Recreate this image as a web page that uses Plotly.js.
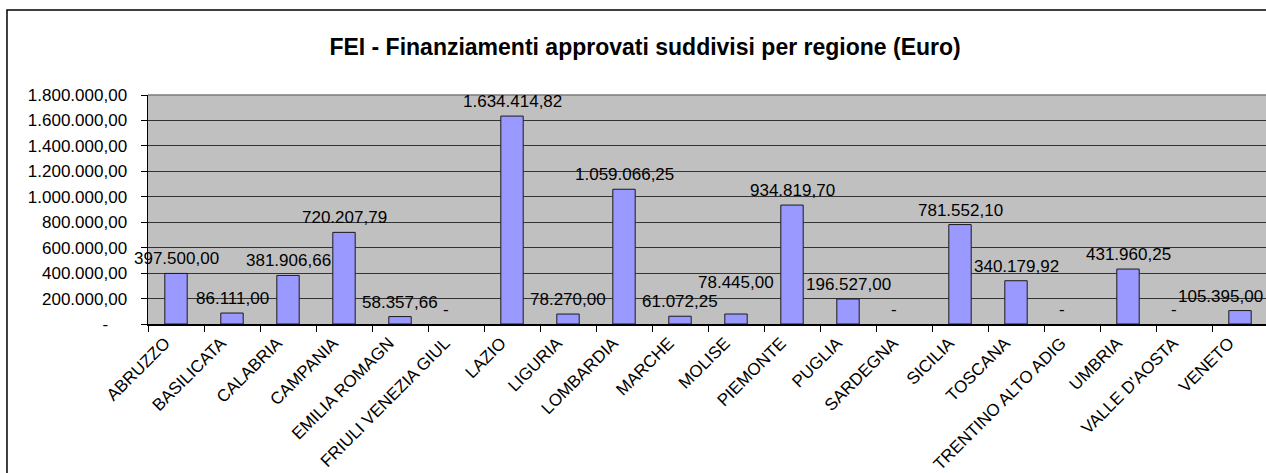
<!DOCTYPE html>
<html>
<head>
<meta charset="utf-8">
<script src="https://cdn.plot.ly/plotly-3.0.1.min.js"></script>
<style>
  html, body { margin: 0; padding: 0; background: #ffffff; overflow: hidden; }
  #chart { width: 1268px; height: 473px; }
</style>
</head>
<body>
<div id="chart"></div>
<script>
// ---- Data ----
const categories = [
  "ABRUZZO", "BASILICATA", "CALABRIA", "CAMPANIA", "EMILIA ROMAGNA",
  "FRIULI VENEZIA GIULIA", "LAZIO", "LIGURIA", "LOMBARDIA", "MARCHE",
  "MOLISE", "PIEMONTE", "PUGLIA", "SARDEGNA", "SICILIA",
  "TOSCANA", "TRENTINO ALTO ADIGE", "UMBRIA", "VALLE D'AOSTA", "VENETO"
];
// category labels as shown (clipped) in the reference
const categoryLabels = [
  "ABRUZZO", "BASILICATA", "CALABRIA", "CAMPANIA", "EMILIA ROMAGN",
  "FRIULI VENEZIA GIUL", "LAZIO", "LIGURIA", "LOMBARDIA", "MARCHE",
  "MOLISE", "PIEMONTE", "PUGLIA", "SARDEGNA", "SICILIA",
  "TOSCANA", "TRENTINO ALTO ADIG", "UMBRIA", "VALLE D'AOSTA", "VENETO"
];
const amounts = [
  397500.00, 86111.00, 381906.66, 720207.79, 58357.66,
  0, 1634414.82, 78270.00, 1059066.25, 61072.25,
  78445.00, 934819.70, 196527.00, 0, 781552.10,
  340179.92, 0, 431960.25, 0, 105395.00
];
const yTickValues = [0, 200000, 400000, 600000, 800000, 1000000, 1200000, 1400000, 1600000, 1800000];
const yTickLabels = ["-", "200.000,00", "400.000,00", "600.000,00", "800.000,00",
  "1.000.000,00", "1.200.000,00", "1.400.000,00", "1.600.000,00", "1.800.000,00"];
const chartTitle = "FEI - Finanziamenti approvati suddivisi per regione (Euro)";

// ---- Formatting ----
function fmtIt(v) {
  const parts = v.toFixed(2).split(".");
  const intPart = parts[0].replace(/\B(?=(\d{3})+(?!\d))/g, ".");
  return intPart + "," + parts[1];
}
const NB = "\u00a0";
const FONT = "Liberation Sans, Arial, Helvetica, sans-serif";

// labels moved by hand in the original sheet (pixel nudges)
const labelNudge = { "MOLISE": { x: 0, y: 17 }, "VENETO": { x: -20, y: 0 } };

const annotations = amounts.map((v, i) => {
  const n = labelNudge[categories[i]] || { x: 0, y: 0 };
  return {
    x: categories[i],
    y: v,
    xref: "x",
    yref: "y",
    text: v === 0 ? "-" : fmtIt(v),
    showarrow: false,
    xanchor: "center",
    yanchor: "bottom",
    xshift: (v === 0 ? -10 : 0) + n.x,
    yshift: 3 + n.y,
    font: { family: FONT, size: 17, color: "#000000" }
  };
});

const trace = {
  type: "bar",
  x: categories,
  y: amounts,
  marker: {
    color: "#9999FF",
    line: { color: "#1a1a1a", width: amounts.map(v => (v === 0 ? 0 : 1)) }
  },
  hoverinfo: "none"
};

const layout = {
  width: 1268,
  height: 473,
  margin: { l: 148, r: 0, t: 95, b: 149 },
  paper_bgcolor: "#ffffff",
  plot_bgcolor: "#C0C0C0",
  showlegend: false,
  bargap: 0.6,
  font: { family: FONT, size: 17, color: "#000000" },
  title: {
    text: chartTitle,
    font: { family: FONT, size: 23, weight: 700, color: "#000000" },
    xref: "container", yref: "container",
    x: 0.5087, xanchor: "center",
    y: 0.9006, yanchor: "middle"
  },
  xaxis: {
    type: "category",
    range: [-0.5, categories.length - 0.5],
    autorange: false,
    tickmode: "array",
    tickvals: categories,
    ticktext: categoryLabels,
    tickson: "boundaries",
    ticks: "outside",
    ticklen: 6,
    tickwidth: 1,
    tickcolor: "#000000",
    tickangle: -45,
    ticklabelshift: -11,
    ticklabelstandoff: 1,
    tickfont: { family: FONT, size: 17, color: "#000000" },
    showline: true,
    linecolor: "#000000",
    linewidth: 1.5,
    showgrid: false,
    zeroline: false,
    fixedrange: true
  },
  yaxis: {
    range: [0, 1800000],
    autorange: false,
    tickmode: "array",
    tickvals: yTickValues,
    ticktext: yTickLabels.map(t => t === "-" ? "-" + NB + NB + NB + NB : t),
    ticks: "outside",
    ticklen: 6,
    tickwidth: 1,
    tickcolor: "#000000",
    ticklabelstandoff: 10,
    tickfont: { family: FONT, size: 17, color: "#000000" },
    showline: true,
    linecolor: "#000000",
    linewidth: 1.5,
    showgrid: true,
    gridcolor: "#333333",
    gridwidth: 1,
    zeroline: false,
    fixedrange: true
  },
  annotations: annotations,
  shapes: [
    {
      type: "rect", xref: "paper", yref: "paper",
      x0: -0.1259, x1: 1.3, y0: -1.0, y1: 1.371,
      line: { color: "#000000", width: 1.5 },
      fillcolor: "rgba(0,0,0,0)",
      layer: "above"
    },
    {
      type: "line", xref: "paper", yref: "paper",
      x0: 0, x1: 1, y0: 1, y1: 1,
      line: { color: "#7a7a7a", width: 1.5 },
      layer: "above"
    }
  ]
};

Plotly.newPlot("chart", [trace], layout, { staticPlot: true, displayModeBar: false });
</script>
</body>
</html>
